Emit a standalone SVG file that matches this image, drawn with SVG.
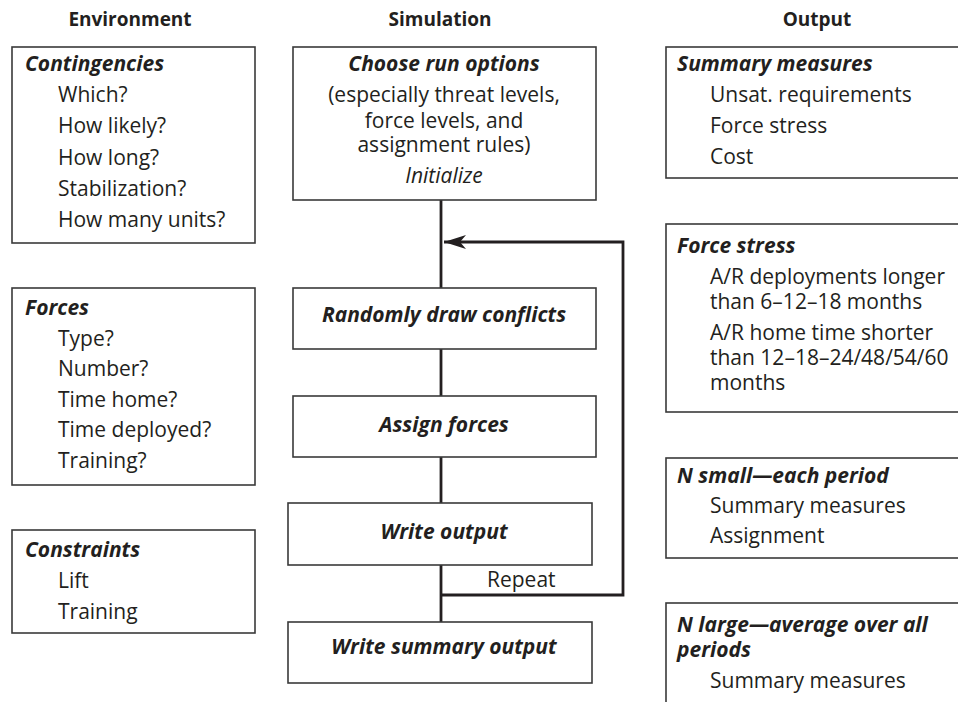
<svg xmlns="http://www.w3.org/2000/svg" width="958" height="702" viewBox="0 0 958 702">
<style>
text{font-family:"Open Sans","Noto Sans","Liberation Sans",sans-serif;fill:#231f20;font-size:21px}
.h{font-weight:bold;font-size:19px;text-anchor:middle}
.t{font-weight:bold;font-style:italic}
.i{font-style:italic}
.c{text-anchor:middle}
.box{fill:#fff;stroke:#3a3a3a;stroke-width:1.6}
.conn{fill:none;stroke:#231f20;stroke-width:2.8}
</style>
<defs>
<marker id="ah" markerUnits="userSpaceOnUse" markerWidth="22" markerHeight="14" viewBox="0 0 22 14" refX="22" refY="7" orient="auto">
<path d="M0,0 L22,7 L0,14 L6,7 Z" fill="#231f20"/>
</marker>
</defs>
<rect width="958" height="702" fill="#fff"/>
<g id="headers">
<text class="h" x="130" y="26">Environment</text>
<text class="h" x="440" y="26">Simulation</text>
<text class="h" x="817" y="26">Output</text>
</g>
<g id="connectors">
<line class="conn" x1="441" y1="200" x2="441" y2="288"/>
<line class="conn" x1="441" y1="349" x2="441" y2="396"/>
<line class="conn" x1="441" y1="457" x2="441" y2="503"/>
<line class="conn" x1="441" y1="565" x2="441" y2="622"/>
<path class="conn" d="M441,595 H623 V242 H444" marker-end="url(#ah)"/>
<text x="487" y="587">Repeat</text>
</g>
<g id="contingencies">
<rect class="box" x="12" y="47" width="243" height="196"/>
<text class="t" x="25" y="71">Contingencies</text>
<text x="58" y="102">Which?</text>
<text x="58" y="133">How likely?</text>
<text x="58" y="165">How long?</text>
<text x="58" y="196">Stabilization?</text>
<text x="58" y="227">How many units?</text>
</g>
<g id="forces">
<rect class="box" x="12" y="288" width="243" height="197"/>
<text class="t" x="25" y="315">Forces</text>
<text x="58" y="346">Type?</text>
<text x="58" y="376">Number?</text>
<text x="58" y="407">Time home?</text>
<text x="58" y="437">Time deployed?</text>
<text x="58" y="468">Training?</text>
</g>
<g id="constraints">
<rect class="box" x="12" y="530" width="243" height="103"/>
<text class="t" x="25" y="557">Constraints</text>
<text x="58" y="588">Lift</text>
<text x="58" y="619">Training</text>
</g>
<g id="choose">
<rect class="box" x="293" y="47" width="303" height="153"/>
<text class="t c" x="444" y="71">Choose run options</text>
<text class="c"><tspan x="444" y="102">(especially threat levels,</tspan><tspan x="444" y="128">force levels, and</tspan><tspan x="444" y="152">assignment rules)</tspan></text>
<text class="i c" x="444" y="183">Initialize</text>
</g>
<g id="randomly">
<rect class="box" x="293" y="288" width="303" height="61"/>
<text class="t c" x="444" y="322">Randomly draw conflicts</text>
</g>
<g id="assign">
<rect class="box" x="293" y="396" width="303" height="61"/>
<text class="t c" x="444" y="432">Assign forces</text>
</g>
<g id="writeoutput">
<rect class="box" x="288" y="503" width="304" height="62"/>
<text class="t c" x="444" y="539">Write output</text>
</g>
<g id="writesummary">
<rect class="box" x="288" y="622" width="304" height="61"/>
<text class="t c" x="444" y="654">Write summary output</text>
</g>
<g id="summary">
<rect class="box" x="666" y="47" width="320" height="131"/>
<text class="t" x="677" y="71">Summary measures</text>
<text x="710" y="102">Unsat. requirements</text>
<text x="710" y="133">Force stress</text>
<text x="710" y="164">Cost</text>
</g>
<g id="forcestress">
<rect class="box" x="666" y="224" width="320" height="188"/>
<text class="t" x="677" y="253">Force stress</text>
<text><tspan x="710" y="284">A/R deployments longer</tspan><tspan x="710" y="309">than 6–12–18 months</tspan></text>
<text><tspan x="710" y="340">A/R home time shorter</tspan><tspan x="710" y="365">than 12–18–24/48/54/60</tspan><tspan x="710" y="390">months</tspan></text>
</g>
<g id="nsmall">
<rect class="box" x="666" y="458" width="320" height="100"/>
<text class="t" x="677" y="483">N small—each period</text>
<text x="710" y="513">Summary measures</text>
<text x="710" y="543">Assignment</text>
</g>
<g id="nlarge">
<rect class="box" x="666" y="603" width="320" height="140"/>
<text class="t"><tspan x="677" y="632">N large—average over all</tspan><tspan x="677" y="657">periods</tspan></text>
<text x="710" y="688">Summary measures</text>
</g>
</svg>
